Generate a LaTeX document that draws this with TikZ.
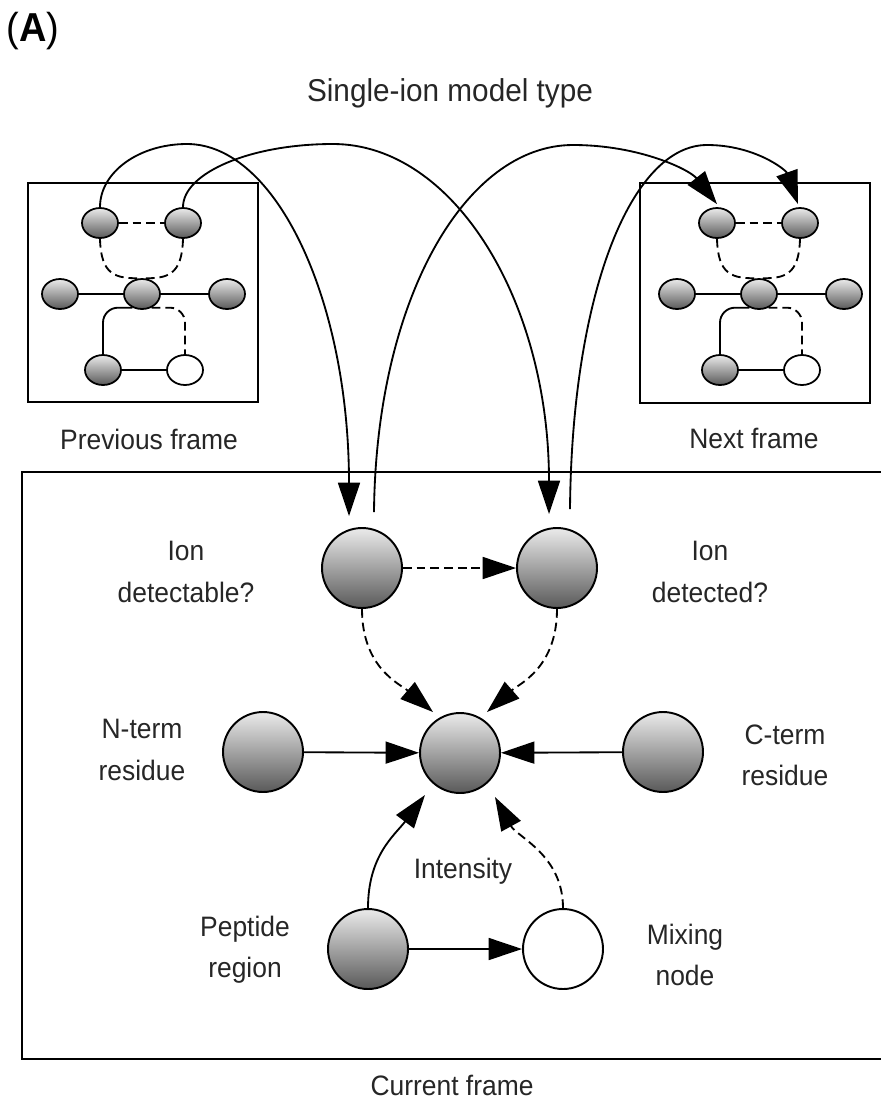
\documentclass[tikz,border=0pt]{standalone}
\usepackage{fontspec}
\setmainfont{Liberation Sans}[FakeStretch=0.94]
\usetikzlibrary{arrows.meta,shapes.geometric,calc}

\begin{document}
\begin{tikzpicture}[x=0.02cm,y=-0.02cm,
  lbl/.style={font=\fontsize{16}{23.5}\selectfont, align=center, inner sep=0pt, text=black!85},
  ttl/.style={font=\fontsize{18}{22}\selectfont, inner sep=0pt, text=black!85},
  big/.style={circle, draw, line width=1.1pt, minimum size=1.6cm, inner sep=0pt,
              top color=black!8, bottom color=black!65},
  bigw/.style={circle, draw, line width=1.1pt, minimum size=1.6cm, inner sep=0pt, fill=white},
  small/.style={ellipse, draw, line width=1pt, minimum width=0.72cm, minimum height=0.6cm,
                inner sep=0pt, top color=black!8, bottom color=black!65},
  smallw/.style={ellipse, draw, line width=1pt, minimum width=0.72cm, minimum height=0.6cm,
                 inner sep=0pt, fill=white},
  conn/.style={line width=1.05pt},
  dsh/.style={line width=1.05pt, dash pattern=on 5pt off 2.8pt},
  tip/.style={-{Triangle[length=19pt,width=12.5pt]}},
  framebox/.style={line width=1.3pt}
]
\useasboundingbox (0,0) rectangle (880,1103);

% panel letter and heading
\node[font=\fontsize{23}{26}\selectfont, inner sep=0pt] (panel) at (33,31) {(\textbf{A})};
\node[ttl] (heading) at (450,93) {Single-ion model type};

% frames
\draw[framebox] (28,183) rectangle (258,402);
\draw[framebox] (640,183) rectangle (870,403);
\draw[framebox] (884,472) -- (22,472) -- (22,1059) -- (884,1059);

\node[lbl] (prevlbl) at (149,439) {Previous frame};
\node[lbl] (nextlbl) at (754,438) {Next frame};
\node[lbl] (curlbl) at (452,1085) {Current frame};

% small networks of the previous and next frames
\foreach \p/\d in {p/0,n/617} {
  \node[small]  (\p TL) at ({100+\d},223) {};
  \node[small]  (\p TR) at ({183+\d},223) {};
  \node[small]  (\p ML) at ({60+\d},294) {};
  \node[small]  (\p MC) at ({142+\d},294) {};
  \node[small]  (\p MR) at ({227+\d},294) {};
  \node[small]  (\p BL) at ({103+\d},370) {};
  \node[smallw] (\p BR) at ({185+\d},370) {};
  \draw[dsh] (\p TL) -- (\p TR);
  \draw[dsh] (\p TL.south) .. controls ({101+\d},275) and ({115+\d},279) .. (\p MC.north);
  \draw[dsh] (\p TR.south) .. controls ({182+\d},275) and ({168+\d},279) .. (\p MC.north);
  \draw[conn] (\p ML) -- (\p MC) -- (\p MR);
  \draw[conn, rounded corners=0.3cm] (\p MC.235) -| (\p BL.north);
  \draw[dsh, rounded corners=0.3cm] (\p MC.-55) -| (\p BR.north);
  \draw[conn] (\p BL) -- (\p BR);
}

% current frame nodes
\node[big]  (ionA)  at (362,568) {};
\node[big]  (ionB)  at (557,568) {};
\node[big]  (inten) at (460,753) {};
\node[big]  (nterm) at (263,752) {};
\node[big]  (cterm) at (663,752) {};
\node[big]  (pep)   at (368,949) {};
\node[bigw] (mix)   at (563,949) {};

\node[lbl] (lA) at (186,572) {Ion\\detectable?};
\node[lbl] (lB) at (710,572) {Ion\\detected?};
\node[lbl] (lN) at (142,750) {N-term\\residue};
\node[lbl] (lC) at (785,755) {C-term\\residue};
\node[lbl] (lI) at (463,871) {Intensity};
\node[lbl] (lP) at (245,950) {Peptide\\region};
\node[lbl] (lM) at (685,955) {Mixing\\node};

% links between frames
\draw[conn, tip] (pTL.north) .. controls (100,172) and (139,144) .. (187,144)
   .. controls (276,144) and (349,300) .. ($(ionA.north)+(-13,-11)$);
\draw[conn, tip] (pTR.north) .. controls (183,173) and (250,144) .. (333,144)
   .. controls (453,144) and (549,300) .. ($(ionB.north)+(-8,-13)$);
\draw[conn, tip] ($(ionA.north)+(12,-15)$) .. controls (376,300) and (465,145) .. (573,145)
   .. controls (640,145) and (690,170) .. ($(nTL.north)+(0,-3)$);
\draw[conn, tip] ($(ionB.north)+(13,-18)$) .. controls (572,291) and (632,145) .. (707,145)
   .. controls (755,145) and (786,170) .. ($(nTR.north)+(-2,-3)$);

% links inside the current frame
\draw[dsh, tip] (ionA) -- (ionB);
\draw[dsh, tip] (ionA.south) .. controls (362,668) and (400,684) .. ($(inten.135)+(2,-12)$);
\draw[dsh, tip] (ionB.south) .. controls (557,668) and (519,684) .. ($(inten.45)+(-2,-12)$);
\draw[conn, tip] (nterm) -- (inten);
\draw[conn, tip] (cterm) -- (inten);
\draw[conn, tip] (pep.north) .. controls (368,855) and (395,835) .. ($(inten)+(-35,42)$);
\draw[dsh, tip] (mix.north) .. controls (563,855) and (517,837) .. ($(inten)+(35,44)$);
\draw[conn, tip] (pep) -- (mix);
\end{tikzpicture}
\end{document}
